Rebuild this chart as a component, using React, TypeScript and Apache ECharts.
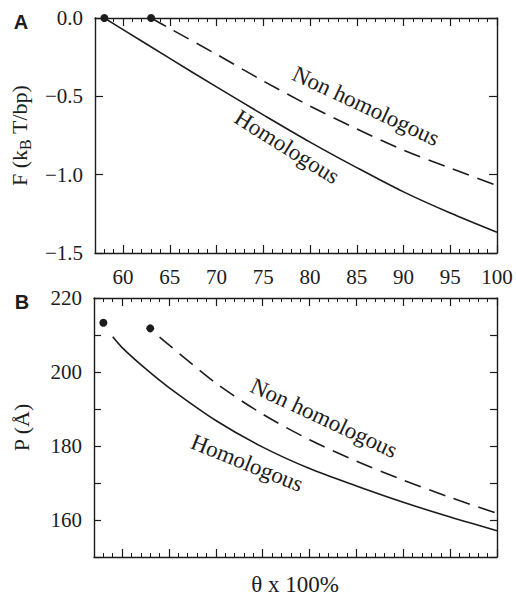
import React, { useEffect, useRef } from "react";
import * as echarts from "echarts";

// ---- Data ----
const xMajorTicks = [60, 65, 70, 75, 80, 85, 90, 95, 100];

// Panel A: free energy F (kBT/bp)
const homologousF: number[][] = [
  [58, 0], [60, -0.074], [65, -0.258], [70, -0.44], [75, -0.618],
  [80, -0.792], [85, -0.955], [90, -1.11], [95, -1.245], [100, -1.368],
];
const nonHomologousF: number[][] = [
  [63, 0], [65, -0.067], [70, -0.232], [75, -0.402], [80, -0.562],
  [85, -0.708], [90, -0.843], [95, -0.958], [100, -1.069],
];
const onsetF: number[][] = [[58, 0], [63, 0]];

// Panel B: pitch P (Å)
const homologousP: number[][] = [
  [59, 209.5], [60, 206.6], [62.5, 200.9], [65, 195.8], [70, 186.9],
  [75, 179.7], [80, 173.9], [85, 169.2], [90, 164.8], [95, 160.8], [100, 157.1],
];
const nonHomologousP: number[][] = [
  [64, 209.4], [65, 207.3], [70, 197.0], [75, 188.6], [80, 181.7],
  [85, 175.9], [90, 170.8], [95, 166.1], [100, 161.8],
];
const onsetP: number[][] = [[58, 213.3], [63, 211.8]];

const yTicksA = [0, -0.5, -1.0, -1.5];
const yLabelStepB = 20;

const INK = "#1c1c1c";
const SERIF = "'Liberation Serif', 'Times New Roman', serif";
const TICK_FS = 21;
const LABEL_FS = 23;
const DASH = [17, 9];

export default function App() {
  const ref = useRef<HTMLDivElement>(null);

  useEffect(() => {
    if (!ref.current) return;
    const chart = echarts.init(ref.current, undefined, { renderer: "svg" });

    const gridA = { left: 94, right: 19, top: 18, height: 235 };
    const gridB = { left: 94, right: 19, top: 298, height: 259 };

    const lineStyle = { color: INK, width: 1.4 };

    const xMajor = (gridIndex: number, position: string, labels: boolean) => ({
      type: "value",
      gridIndex,
      position,
      min: 57,
      max: 100,
      axisLine: { show: true, onZero: false, lineStyle },
      axisTick: {
        show: true,
        inside: true,
        length: 8,
        customValues: xMajorTicks,
        lineStyle: { color: INK, width: 1.2 },
      },
      axisLabel: {
        show: labels,
        customValues: xMajorTicks,
        margin: 13,
        color: INK,
        fontFamily: SERIF,
        fontSize: TICK_FS,
      },
      splitLine: { show: false },
    });
    const xMinor = (gridIndex: number, position: string) => ({
      type: "value",
      gridIndex,
      position,
      min: 57,
      max: 100,
      interval: 1,
      axisLine: { show: false, onZero: false },
      axisTick: {
        show: true,
        inside: true,
        length: 4,
        lineStyle: { color: INK, width: 1 },
      },
      axisLabel: { show: false },
      splitLine: { show: false },
    });

    const yBase = (gridIndex: number, position: string) => ({
      type: "value",
      gridIndex,
      position,
      axisLine: { show: true, onZero: false, lineStyle },
      axisTick: { show: true, inside: true, length: 8, lineStyle: { color: INK, width: 1.2 } },
      splitLine: { show: false },
    });

    const curveLabel = (text: string, x: number, y: number, deg: number) => ({
      type: "text",
      x,
      y,
      rotation: (-deg * Math.PI) / 180,
      style: {
        text,
        font: `${LABEL_FS}px ${SERIF}`,
        fill: INK,
        align: "center",
        verticalAlign: "middle",
      },
    });

    const option: any = {
      animation: false,
      backgroundColor: "#ffffff",
      textStyle: { fontFamily: SERIF },
      grid: [gridA, gridB],
      xAxis: [
        xMajor(0, "bottom", true),
        xMinor(0, "bottom"),
        xMajor(0, "top", false),
        xMinor(0, "top"),
        xMajor(1, "bottom", false),
        xMinor(1, "bottom"),
        xMajor(1, "top", false),
        xMinor(1, "top"),
      ],
      yAxis: [
        {
          ...yBase(0, "left"),
          min: -1.5,
          max: 0,
          interval: 0.5,
          axisLabel: {
            margin: 12,
            color: INK,
            fontFamily: SERIF,
            fontSize: TICK_FS,
            formatter: (v: number) => {
              const t = yTicksA.find((k) => Math.abs(k - v) < 1e-9);
              if (t === undefined) return "";
              return (t < 0 ? "\u2212" : "") + Math.abs(t).toFixed(1);
            },
          },
          name: "F (k{sub|B} T/bp)",
          nameLocation: "middle",
          nameRotate: 90,
          nameGap: 62,
          nameTextStyle: {
            color: INK,
            fontFamily: SERIF,
            fontSize: 22,
            rich: {
              sub: { fontSize: 16, fontFamily: SERIF, color: INK, padding: [12, 0, 0, 0] },
            },
          },
        },
        {
          ...yBase(0, "right"),
          min: -1.5,
          max: 0,
          interval: 0.5,
          axisLabel: { show: false },
        },
        {
          ...yBase(1, "left"),
          min: 150,
          max: 220,
          interval: 10,
          axisTick: { show: true, inside: true, length: 7, lineStyle: { color: INK, width: 1.2 } },
          axisLabel: {
            margin: 12,
            color: INK,
            fontFamily: SERIF,
            fontSize: TICK_FS,
            formatter: (v: number) => (v % yLabelStepB === 0 ? String(v) : ""),
          },
          name: "P (\u00C5)",
          nameLocation: "middle",
          nameRotate: 90,
          nameGap: 62,
          nameTextStyle: { color: INK, fontFamily: SERIF, fontSize: 22 },
        },
        {
          ...yBase(1, "right"),
          min: 150,
          max: 220,
          interval: 10,
          axisTick: { show: true, inside: true, length: 7, lineStyle: { color: INK, width: 1.2 } },
          axisLabel: { show: false },
        },
      ],
      series: [
        {
          type: "line",
          name: "Homologous F",
          xAxisIndex: 0,
          yAxisIndex: 0,
          data: homologousF,
          smooth: 0.3,
          showSymbol: false,
          lineStyle: { color: INK, width: 1.6 },
        },
        {
          type: "line",
          name: "Non homologous F",
          xAxisIndex: 0,
          yAxisIndex: 0,
          data: nonHomologousF,
          smooth: 0.3,
          showSymbol: false,
          lineStyle: { color: INK, width: 1.6, type: DASH },
        },
        {
          type: "scatter",
          xAxisIndex: 0,
          yAxisIndex: 0,
          data: onsetF,
          symbolSize: 8,
          itemStyle: { color: INK, opacity: 1 },
          z: 5,
        },
        {
          type: "line",
          name: "Homologous P",
          xAxisIndex: 4,
          yAxisIndex: 2,
          data: homologousP,
          smooth: 0.3,
          showSymbol: false,
          lineStyle: { color: INK, width: 1.6 },
        },
        {
          type: "line",
          name: "Non homologous P",
          xAxisIndex: 4,
          yAxisIndex: 2,
          data: nonHomologousP,
          smooth: 0.3,
          showSymbol: false,
          lineStyle: { color: INK, width: 1.6, type: DASH },
        },
        {
          type: "scatter",
          xAxisIndex: 4,
          yAxisIndex: 2,
          data: onsetP,
          symbolSize: 8,
          itemStyle: { color: INK, opacity: 1 },
          z: 5,
        },
      ],
      graphic: [
        {
          type: "text",
          x: 21,
          y: 22,
          style: {
            text: "A",
            font: "bold 20px 'Liberation Sans', Arial, sans-serif",
            fill: INK,
            align: "center",
            verticalAlign: "middle",
          },
        },
        {
          type: "text",
          x: 22,
          y: 302,
          style: {
            text: "B",
            font: "bold 20px 'Liberation Sans', Arial, sans-serif",
            fill: INK,
            align: "center",
            verticalAlign: "middle",
          },
        },
        curveLabel("Non homologous", 366, 106, 25),
        curveLabel("Homologous", 287, 147, 32),
        curveLabel("Non homologous", 324, 418, 25),
        curveLabel("Homologous", 247, 463, 22),
        {
          type: "text",
          x: 295,
          y: 584,
          style: {
            text: "\u03B8 x 100%",
            font: `23px ${SERIF}`,
            fill: INK,
            align: "center",
            verticalAlign: "middle",
          },
        },
      ],
    };

    chart.setOption(option);
    return () => chart.dispose();
  }, []);

  return <div ref={ref} style={{ width: 516, height: 601, position: "absolute", left: 0, top: 0 }} />;
}
